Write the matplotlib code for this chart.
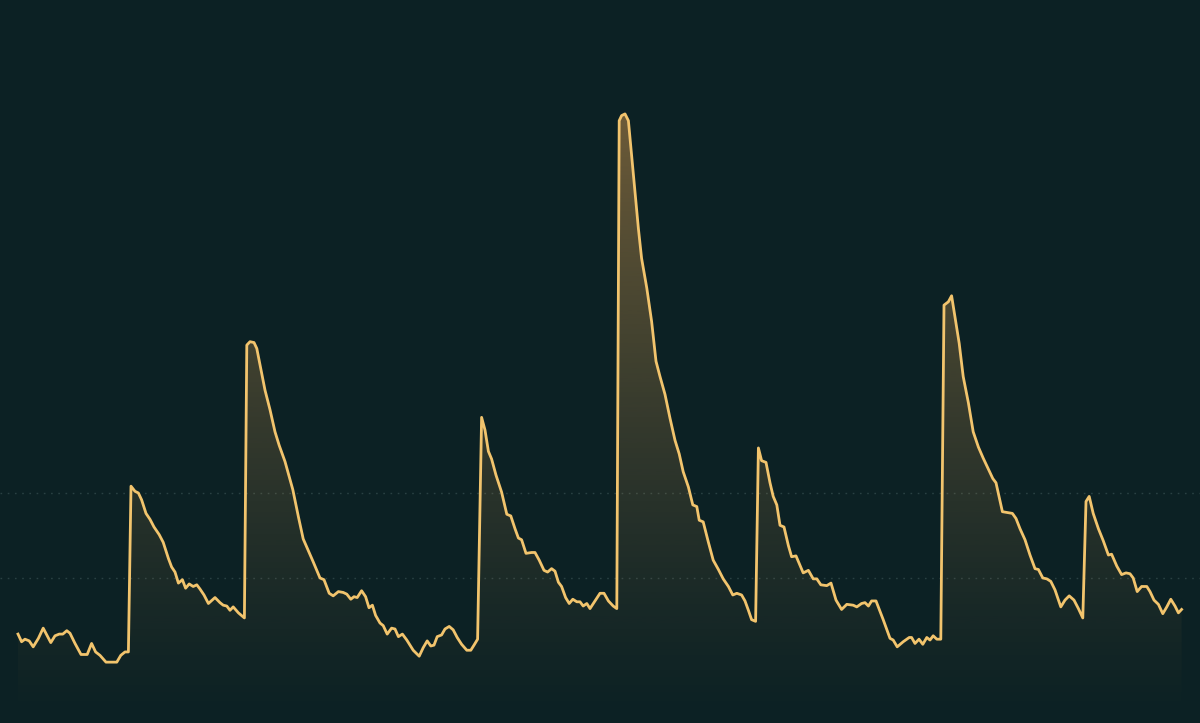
import numpy as np
import matplotlib
matplotlib.use("Agg")
import matplotlib.pyplot as plt
from matplotlib.colors import to_rgb

# time axis (arbitrary units) and level
t = [
    0.0, 0.9, 1.75, 2.8, 3.8, 5.1, 6.3, 7.2, 8.2, 9.25, 10.3, 11.2, 12.2, 13.0,
    14.25, 15.75, 17.3, 18.4, 19.4, 20.5, 22.0, 24.7, 25.7, 26.75, 27.6,
    28.25, 29.25, 30.1, 30.9, 32.0, 33.0, 34.0, 35.3, 36.3, 37.6, 38.4, 39.25,
    40.1, 41.1, 41.9, 42.8, 43.8, 44.7, 45.5, 46.5, 47.6, 49.25, 50.5, 51.3,
    52.2, 53.0, 53.8, 55.1, 56.6,
    57.2, 58.0, 59.0, 59.7, 60.5, 61.75, 63.0, 64.25, 65.3, 66.75, 68.7, 70.1,
    71.3, 72.6, 73.8, 75.5, 76.5, 77.8, 78.8, 80.1, 81.3, 82.2, 83.2, 84.0,
    84.8, 85.9, 86.9, 87.75, 88.6, 89.4, 90.5, 91.3, 92.3, 93.4, 94.25, 95.1,
    96.1, 97.2, 98.8, 100.3, 101.3, 102.3, 103.2, 104.0, 104.8, 105.9, 106.75,
    107.8, 108.8, 109.8, 110.9, 112.2, 113.2, 114.0, 114.9,
    115.9, 116.75, 117.6, 118.4, 119.5, 120.9, 122.2, 123.2, 124.25, 125.1,
    125.9, 127.0, 128.4, 129.25, 130.3, 131.5, 132.4, 133.4, 134.25, 135.1,
    135.9, 136.9, 137.8, 138.7, 139.7, 140.5, 141.3, 142.2, 143.0, 144.25,
    145.5, 146.5, 147.6, 148.8, 149.7,
    150.3, 150.9, 151.75, 152.6, 153.4, 154.25, 155.1, 155.9, 157.2, 158.4,
    159.5, 160.5, 161.75, 163.0, 164.25, 165.3, 166.3, 167.6, 168.7, 169.7,
    170.3, 171.3, 172.6, 173.8, 175.1, 176.3, 177.6, 178.7, 179.7, 180.9,
    181.75, 182.6, 183.4, 184.4,
    185.1, 185.9, 187.0, 188.0, 188.8, 189.7, 190.5, 191.5, 192.6, 193.4,
    194.5, 195.5, 196.3, 197.6, 198.8, 199.7, 200.7, 202.2, 203.25, 204.5,
    205.9, 207.2, 208.8, 209.7, 210.9, 211.75, 212.6, 213.4, 214.5, 216.3,
    218.0, 218.8, 219.8, 221.3, 222.8, 223.4, 224.25, 225.25, 226.2, 227.2,
    228.0, 228.8, 229.7, 230.7,
    231.5, 232.6, 233.4, 234.25, 235.3, 236.3, 237.6, 238.8, 240.1, 241.3,
    242.6, 243.7, 244.5, 245.25, 246.1, 247.3, 248.6, 249.5, 250.5, 251.75,
    253.0, 254.25, 255.1, 256.2, 257.2, 258.2, 259.25, 260.7, 261.75, 262.8,
    264.0, 265.1, 266.2,
    267.0, 267.8, 268.8, 270.1, 271.3, 272.6, 273.4, 274.7, 275.9, 277.0,
    278.0, 278.8, 279.8, 280.9, 282.2, 283.0, 284.0, 285.1, 286.2, 287.2,
    288.2, 289.25, 290.1, 290.9,
]
level = [
    3.4, 2.5, 2.8, 2.6, 1.9, 2.9, 4.1, 3.3, 2.4, 3.2, 3.4, 3.4, 3.8, 3.5,
    2.3, 1.0, 1.0, 2.3, 1.3, 0.9, 0.1, 0.1, 0.9, 1.3, 1.3,
    20.8, 20.2, 20.0, 19.2, 17.6, 16.9, 16.0, 15.1, 14.2, 12.3, 11.3, 10.7,
    9.4, 9.8, 8.8, 9.3, 9.0, 9.2, 8.7, 8.0, 7.0, 7.7, 7.1, 6.8,
    6.7, 6.2, 6.6, 5.9, 5.3,
    37.4, 37.8, 37.7, 37.0, 35.1, 32.1, 29.8, 27.2, 25.6, 23.7, 20.4, 17.2,
    14.6, 13.2, 11.9, 10.0, 9.8, 8.2, 7.9, 8.4, 8.3, 8.1, 7.5, 7.8,
    7.7, 8.5, 7.8, 6.5, 6.8, 5.6, 4.7, 4.4, 3.4, 4.1, 4.0, 3.1,
    3.4, 2.7, 1.5, 0.8, 1.8, 2.6, 2.0, 2.1, 3.1, 3.3, 4.0,
    4.3, 3.9, 3.0, 2.2, 1.5, 1.5, 2.1, 2.8,
    28.9, 27.4, 24.9, 24.0, 22.1, 20.1, 17.5, 17.3, 15.8, 14.7,
    14.5, 12.9, 13.0, 13.0, 12.1, 10.9, 10.7, 11.1, 10.8, 9.5,
    9.0, 7.7, 7.0, 7.5, 7.2, 7.2, 6.7, 7.0, 6.4, 7.3,
    8.2, 8.2, 7.3, 6.7, 6.4,
    63.8, 64.4, 64.6, 63.8, 59.7, 55.4, 51.1, 47.6, 44.1, 40.2,
    35.5, 33.7, 31.6, 28.8, 26.2, 24.6, 22.5, 20.7, 18.6, 18.4,
    16.8, 16.6, 14.2, 12.1, 11.0, 9.9, 9.0, 8.0, 8.2, 8.0,
    7.3, 6.2, 5.1, 4.9,
    25.3, 23.8, 23.6, 21.2, 19.6, 18.6, 16.2, 16.0, 13.8, 12.5,
    12.6, 11.5, 10.6, 10.9, 9.9, 9.9, 9.2, 9.1, 9.4, 7.4,
    6.3, 6.9, 6.8, 6.6, 7.0, 7.1, 6.7, 7.3, 7.3, 5.1,
    2.9, 2.7, 1.9, 2.5, 3.0, 3.0, 2.3, 2.8, 2.2, 3.0,
    2.7, 3.2, 2.8, 2.8,
    42.1, 42.5, 43.2, 40.7, 37.6, 33.7, 30.6, 27.2, 25.4, 24.1,
    22.8, 21.7, 21.2, 19.6, 17.8, 17.7, 17.6, 17.0, 15.8, 14.5,
    12.7, 11.1, 11.0, 10.0, 9.9, 9.6, 8.6, 6.6, 7.4, 7.9,
    7.4, 6.4, 5.3,
    19.0, 19.6, 17.6, 15.8, 14.4, 12.7, 12.8, 11.4, 10.4, 10.6,
    10.5, 10.0, 8.4, 9.0, 9.0, 8.4, 7.4, 6.9, 5.8, 6.6,
    7.5, 6.7, 5.9, 6.3,
]
grid_levels = [10, 20]

BG = "#0c2124"
GOLD = "#f2c46d"
FILL = "#e4a352"


def gradient_fill(ax, x, y, y_bottom, y_top):
    poly = ax.fill_between(x, y, y_bottom, facecolor="none", edgecolor="none")
    rgb = to_rgb(FILL)
    n = 256
    img = np.zeros((n, 1, 4))
    img[:, :, :3] = rgb
    img[:, 0, 3] = 0.46 * np.linspace(0.0, 1.0, n) ** 1.2
    x0, x1 = ax.get_xlim()
    im = ax.imshow(img, aspect="auto", origin="lower",
                   extent=[x0, x1, y_bottom, y_top], zorder=1)
    im.set_clip_path(poly.get_paths()[0], transform=ax.transData)


fig = plt.figure(figsize=(12, 7.23), dpi=100, facecolor=BG)
ax = fig.add_axes([0, 0, 1, 1])
ax.set_facecolor(BG)

ax.set_xlim(-4.5, 295.5)
ymin, ymax = -7.06, 78.0
ax.set_ylim(ymin, ymax)

for g in grid_levels:
    ax.axhline(g, color="#2a4143", lw=1.0, ls=(0, (1.2, 4.0)), zorder=0)

gradient_fill(ax, t, level, ymin, 66)
ax.set_xlim(-4.5, 295.5)
ax.set_ylim(ymin, ymax)

ax.plot(t, level, color=GOLD, lw=2.0, solid_joinstyle="round", zorder=3)

ax.axis("off")
fig.savefig("out.png", dpi=100, facecolor=BG)
